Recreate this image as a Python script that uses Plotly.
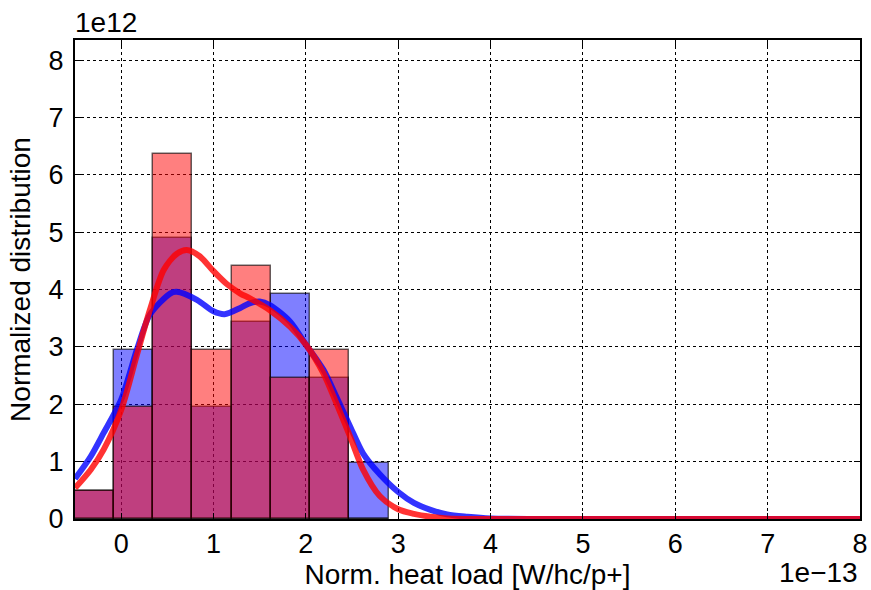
import plotly.graph_objects as go

# Histogram data (x in units of 1e-13, density in units of 1e12)
bin_edges = [-0.503, -0.078, 0.347, 0.772, 1.197, 1.622, 2.047, 2.472, 2.897]
blue_heights = [0.49, 2.94, 4.90, 1.96, 3.43, 3.92, 2.45, 0.98]
red_heights = [0.49, 1.96, 6.37, 2.94, 4.41, 2.45, 2.94, 0.0]

# KDE curves
blue_kde_x = [-0.5, -0.33, -0.19, 0.0, 0.17, 0.31, 0.53, 0.6, 0.82, 1.0, 1.12, 1.29, 1.39, 1.5, 1.61,
              1.83, 2.0, 2.19, 2.33, 2.48, 2.62, 2.8, 3.0, 3.17, 3.35, 3.53, 3.75, 4.0, 4.5, 8.0]
blue_kde_y = [0.70, 1.09, 1.50, 2.08, 2.95, 3.56, 3.93, 3.96, 3.82, 3.62, 3.57, 3.68, 3.76, 3.79, 3.73,
              3.44, 3.04, 2.60, 2.13, 1.61, 1.14, 0.78, 0.47, 0.28, 0.16, 0.08, 0.04, 0.01, 0.0, 0.0]
red_kde_x = [-0.5, -0.33, -0.19, 0.0, 0.17, 0.31, 0.46, 0.6, 0.71, 0.85, 1.0, 1.14, 1.29, 1.39, 1.61,
             1.83, 2.0, 2.19, 2.33, 2.48, 2.62, 2.8, 3.0, 3.17, 3.35, 3.53, 4.0, 8.0]
red_kde_y = [0.54, 0.86, 1.21, 1.90, 2.86, 3.64, 4.34, 4.62, 4.69, 4.58, 4.32, 4.10, 3.93, 3.85, 3.64,
             3.35, 3.04, 2.54, 2.02, 1.43, 0.86, 0.40, 0.17, 0.09, 0.04, 0.01, 0.0, 0.0]

x_ticks = [0, 1, 2, 3, 4, 5, 6, 7, 8]
y_ticks = [0, 1, 2, 3, 4, 5, 6, 7, 8]

lefts = bin_edges[:-1]
widths = [bin_edges[i + 1] - bin_edges[i] for i in range(len(bin_edges) - 1)]

fig = go.Figure()
fig.add_trace(go.Bar(x=lefts, y=blue_heights, width=widths, offset=0,
                     marker=dict(color="rgba(0,0,255,0.5)",
                                 line=dict(color="rgba(0,0,0,0.6)", width=1.5)),
                     showlegend=False))
fig.add_trace(go.Bar(x=lefts, y=red_heights, width=widths, offset=0,
                     marker=dict(color="rgba(255,0,0,0.5)",
                                 line=dict(color="rgba(0,0,0,0.6)", width=1.5)),
                     showlegend=False))
fig.add_trace(go.Scatter(x=blue_kde_x, y=blue_kde_y, mode="lines",
                         line=dict(color="rgba(0,0,255,0.8)", width=6, shape="spline", smoothing=0.8),
                         showlegend=False))
fig.add_trace(go.Scatter(x=red_kde_x, y=red_kde_y, mode="lines",
                         line=dict(color="rgba(255,0,0,0.8)", width=6, shape="spline", smoothing=0.8),
                         showlegend=False))

fam = "Liberation Sans, Arial, sans-serif"
tick_font = dict(family=fam, size=27, color="black")
title_font = dict(family=fam, size=28, color="black")

axis_common = dict(showline=True, linecolor="black", linewidth=2, mirror="allticks",
                   ticks="inside", ticklen=6, tickwidth=1, tickcolor="black",
                   showgrid=True, gridcolor="black", gridwidth=1, griddash="dot",
                   zeroline=False, tickfont=tick_font, automargin=False)

fig.update_layout(
    width=871, height=590,
    margin=dict(l=75, r=11, t=40, b=71),
    plot_bgcolor="white", paper_bgcolor="white",
    barmode="overlay", bargap=0,
    font=title_font,
    xaxis=dict(range=[-0.5, 8], tickvals=x_ticks, ticktext=[str(v) for v in x_ticks],
               ticklabelstandoff=0,
               title=dict(text="Norm. heat load [W/hc/p+]", font=title_font, standoff=2), **axis_common),
    yaxis=dict(range=[0, 8.35], tickvals=y_ticks, ticktext=[str(v) for v in y_ticks],
               ticklabelstandoff=4,
               title=dict(text="Normalized distribution", font=title_font, standoff=10), **axis_common),
    annotations=[
        dict(text="1e12", xref="paper", yref="paper", x=0.0, y=1.0, xanchor="left",
             yanchor="bottom", showarrow=False, font=title_font, xshift=-2, yshift=0),
        dict(text="1e\u221213", xref="paper", yref="paper", x=1.0, y=0.0, xanchor="right",
             yanchor="top", showarrow=False, font=title_font, yshift=-36),
    ],
)

fig.write_html("out.html", config={"displayModeBar": False},
               post_script="document.body.style.margin='0';document.body.style.overflow='hidden';")
